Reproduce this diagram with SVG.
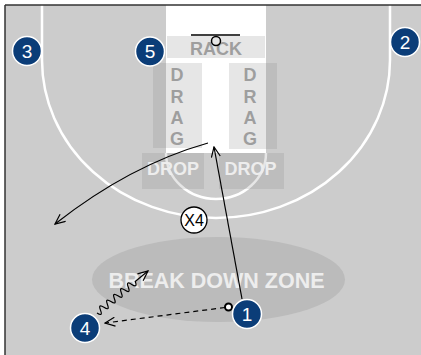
<svg xmlns="http://www.w3.org/2000/svg" width="421" height="355" viewBox="0 0 421 355">
<style>
.court{fill:#cccccc}
.line{fill:none;stroke:#ffffff;stroke-width:2.5}
.box{fill:#808080;fill-opacity:0.2}
.gtxt{font-family:"Liberation Sans",Arial,sans-serif;font-weight:bold;font-size:18px;fill:#9e9e9e;text-anchor:middle}
.wtxt{font-family:"Liberation Sans",Arial,sans-serif;font-weight:bold;font-size:18px;fill:#ededed;text-anchor:middle}
.conn{fill:none;stroke:#000000;stroke-width:1.2}
.player circle{fill:#0b3d78;stroke:#ffffff;stroke-width:1.5}
.player text{font-family:"Liberation Sans",Arial,sans-serif;font-size:19px;fill:#ffffff;text-anchor:middle}
.def circle{fill:#ffffff;stroke:#000000;stroke-width:1.3}
.def text{font-family:"Liberation Sans",Arial,sans-serif;font-size:16px;fill:#000000;text-anchor:middle}
</style>
<defs>
<marker id="arr" viewBox="0 0 12 10" refX="11" refY="5" markerWidth="12" markerHeight="10" markerUnits="userSpaceOnUse" orient="auto">
<path d="M1,0.5 L11,5 L1,9.5" fill="none" stroke="#000000" stroke-width="1.2"/>
</marker>
</defs>
<rect x="0" y="0" width="421" height="355" fill="#ffffff"/>
<g id="court">
<rect class="court" x="5" y="5" width="416" height="350"/>
<rect x="166" y="5" width="100" height="148" fill="#ffffff"/>
<path class="line" d="M42,5 V60 A174,158 0 0 0 390,60 V5"/>
<path class="line" d="M166,153 A50,46 0 0 0 266,153"/>
<line x1="5" y1="5" x2="421" y2="5" stroke="#333333" stroke-width="1.5"/>
<line x1="5" y1="5" x2="5" y2="355" stroke="#333333" stroke-width="1.5"/>
<line x1="191" y1="35" x2="240" y2="35" stroke="#000000" stroke-width="1.5"/>
</g>
<g id="rack">
<rect class="box" x="167" y="36" width="98" height="22"/>
<text class="gtxt" x="216" y="54.5">RACK</text>
<circle cx="216" cy="41" r="4.5" fill="none" stroke="#000000" stroke-width="1.5"/>
</g>
<g id="drag-left">
<rect class="box" x="153" y="63" width="49" height="85"/>
<text class="gtxt" x="177" y="81">D</text>
<text class="gtxt" x="177" y="102.5">R</text>
<text class="gtxt" x="177" y="124">A</text>
<text class="gtxt" x="177" y="145">G</text>
</g>
<g id="drag-right">
<rect class="box" x="229" y="63" width="48" height="86"/>
<text class="gtxt" x="250" y="81">D</text>
<text class="gtxt" x="250" y="102.5">R</text>
<text class="gtxt" x="250" y="124">A</text>
<text class="gtxt" x="250" y="145">G</text>
</g>
<g id="drop-left">
<rect class="box" x="142" y="153" width="62" height="36"/>
<text class="wtxt" x="173" y="175">DROP</text>
</g>
<g id="drop-right">
<rect class="box" x="219" y="153" width="65" height="36"/>
<text class="wtxt" x="250.5" y="175">DROP</text>
</g>
<g id="zone">
<ellipse cx="218.5" cy="279.5" rx="126.5" ry="42.5" fill="#bbbbbb"/>
<text class="wtxt" x="216.5" y="287.5" style="font-size:21.5px">BREAK DOWN ZONE</text>
</g>
<g id="connectors">
<path class="conn" d="M208,143 Q130,165 55,224" marker-end="url(#arr)"/>
<path class="conn" d="M242,299 L214,147" marker-end="url(#arr)"/>
<path class="conn" d="M225,307.5 L105,323" stroke-dasharray="5,4" marker-end="url(#arr)"/>
<path class="conn" d="M97,313 Q103.19,316.98 100.48,310.14 T103.96,307.28 T107.43,304.41 T110.91,301.55 T114.39,298.69 T117.87,295.83 T121.35,292.97 T124.82,290.1 T128.3,287.24 T131.78,284.38 T135.26,281.52 L148,271" marker-end="url(#arr)"/>
<circle cx="228.5" cy="307" r="3.5" fill="#ffffff" stroke="#000000" stroke-width="2"/>
</g>
<g id="p3" class="player"><circle cx="27" cy="51" r="14.5"/><text x="27" y="57.5">3</text></g>
<g id="p5" class="player"><circle cx="150" cy="51.5" r="14.5"/><text x="150" y="58">5</text></g>
<g id="p2" class="player"><circle cx="405" cy="42" r="14.5"/><text x="405" y="48.5">2</text></g>
<g id="p4" class="player"><circle cx="85" cy="328" r="14.5"/><text x="85" y="334.5">4</text></g>
<g id="p1" class="player"><circle cx="247" cy="314" r="14.5"/><text x="247" y="320.5">1</text></g>
<g id="x4" class="def"><circle cx="194" cy="220" r="13"/><text x="194" y="226">X4</text></g>
</svg>
